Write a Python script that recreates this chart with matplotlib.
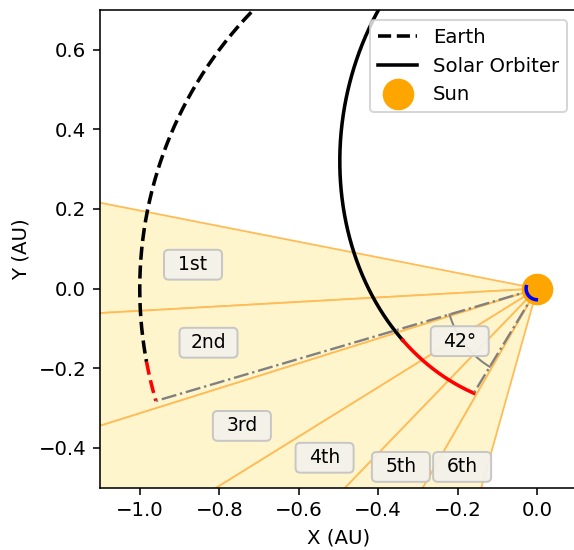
import numpy as np
import matplotlib
matplotlib.use("Agg")
import matplotlib.pyplot as plt
from matplotlib.patches import Wedge, FancyBboxPatch

# wedge boundaries seen from the Sun (deg)
wedge_edges = [168.9, 183.2, 197.4, 211.8, 226.0, 240.1, 254.3]
wedge_labels = ["1st", "2nd", "3rd", "4th", "5th", "6th"]
label_x = [-0.866, -0.827, -0.743, -0.535, -0.343, -0.189]
label_y = [0.060, -0.136, -0.345, -0.425, -0.448, -0.448]

# Earth orbit (circle) and arc limits (deg)
earth_r = 1.0
earth_arc = [120.0, 190.6]
earth_red = [190.6, 196.4]

# Solar Orbiter orbit: r = p / (1 + e cos(theta - w))
solo_p = 0.465
solo_e = 0.55
solo_w = 260.0
solo_arc = [100.0, 200.9]
solo_red = [200.9, 238.7]

# angle marker
angle_r = 0.23
angle_text = "42°"
angle_xy = (-0.195, -0.132)

# small blue arc at the Sun
sun_arc_r = 0.028
sun_arc = [170.0, 265.0]

DPI = 142


def earth_xy(t1, t2):
    th = np.radians(np.linspace(t1, t2, 300))
    return earth_r * np.cos(th), earth_r * np.sin(th)


def solo_xy(t1, t2):
    th = np.radians(np.linspace(t1, t2, 300))
    r = solo_p / (1 + solo_e * np.cos(th - np.radians(solo_w)))
    return r * np.cos(th), r * np.sin(th)


fig = plt.figure(figsize=(574 / DPI, 550 / DPI), dpi=DPI)
ax = fig.add_axes([100 / 574, 62.4 / 550, 477 / 574, 477.6 / 550])

for t1, t2 in zip(wedge_edges[:-1], wedge_edges[1:]):
    ax.add_patch(Wedge((0, 0), 3, t1, t2, facecolor="#fff5cd",
                       edgecolor="#ffbb55", lw=0.9, zorder=1))

ex, ey = earth_xy(*earth_arc)
ax.plot(ex, ey, "k--", lw=1.8, zorder=3, label="Earth")
ex, ey = earth_xy(*earth_red)
ax.plot(ex, ey, "--", color="red", lw=1.8, zorder=3)

sx, sy = solo_xy(*solo_arc)
ax.plot(sx, sy, "k-", lw=1.8, zorder=3, label="Solar Orbiter")
sx, sy = solo_xy(*solo_red)
ax.plot(sx, sy, "-", color="red", lw=1.8, zorder=3)

# lines from the Sun to the end points
e_end = earth_xy(earth_red[1], earth_red[1])
s_end = solo_xy(solo_red[1], solo_red[1])
ax.plot([0, e_end[0][0]], [0, e_end[1][0]], "-.", color="gray", lw=1.2, zorder=4)
ax.plot([0, s_end[0][0]], [0, s_end[1][0]], "-.", color="gray", lw=1.2, zorder=4)

th = np.radians(np.linspace(earth_red[1], solo_red[1], 100))
ax.plot(angle_r * np.cos(th), angle_r * np.sin(th), color="gray", lw=1.0, zorder=4)

ax.plot(0, 0, "o", color="orange", ms=15, ls="none", zorder=5, label="Sun")
th = np.radians(np.linspace(*sun_arc, 60))
ax.plot(sun_arc_r * np.cos(th), sun_arc_r * np.sin(th), color="blue", lw=1.8, zorder=6)

bw, bh = 0.146, 0.075
for txt, x, y in zip(wedge_labels + [angle_text], label_x + [angle_xy[0]], label_y + [angle_xy[1]]):
    ax.add_patch(FancyBboxPatch((x - bw / 2, y - bh / 2), bw, bh,
                                boxstyle="round,pad=0,rounding_size=0.012",
                                facecolor="#f3f1ea", edgecolor="#c4c4c4",
                                lw=1.0, alpha=0.95, zorder=7))
    ax.text(x, y, txt, ha="center", va="center", fontsize=9.5, zorder=8)

ax.set_xlim(-1.1, 0.1)
ax.set_ylim(-0.5, 0.7)
ax.set_xlabel("X (AU)")
ax.set_ylabel("Y (AU)")
ax.legend(loc="upper right")

fig.savefig("out.png", dpi=DPI)
